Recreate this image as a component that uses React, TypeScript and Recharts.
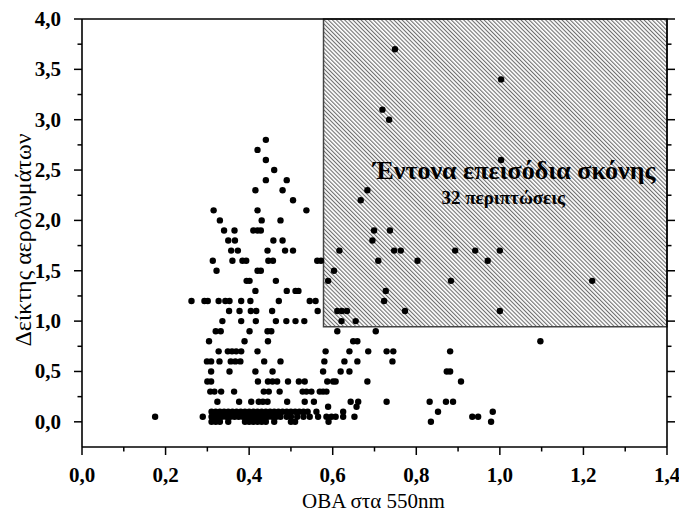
import React from 'react';
import { ScatterChart, Scatter, XAxis, YAxis, ReferenceArea, Label } from 'recharts';

// Rows of the scatter: each Ångström value with the AOD (550nm) values seen on that row
const rowAlpha: number[] = [
  3.7, 3.4, 3.1, 3.0,
  2.8, 2.7, 2.6, 2.5, 2.4, 2.3, 2.2, 2.1, 2.0, 1.9, 1.8, 1.7, 1.6, 1.5, 1.4, 1.3, 1.2, 1.1, 1.0,
  0.9, 0.8, 0.7, 0.6, 0.5, 0.4, 0.3, 0.2, 0.15, 0.1, 0.05, 0.0,
];
const rowAod: number[][] = [
  [0.749],
  [1.003],
  [0.719],
  [0.735],
  [0.44],
  [0.42],
  [0.44, 1.003],
  [0.46],
  [0.44, 0.49],
  [0.415, 0.48, 0.683],
  [0.505, 0.667],
  [0.315, 0.42, 0.537],
  [0.33, 0.43, 0.475],
  [0.34, 0.365, 0.41, 0.42, 0.428, 0.699, 0.737],
  [0.35, 0.366, 0.458, 0.48, 0.695],
  [0.357, 0.373, 0.444, 0.486, 0.505, 0.616, 0.747, 0.763, 0.893, 0.941, 1.0],
  [0.313, 0.36, 0.384, 0.393, 0.446, 0.457, 0.563, 0.572, 0.709, 0.803, 0.971],
  [0.322, 0.42, 0.428, 0.603],
  [0.394, 0.401, 0.464, 0.589, 0.883, 1.221],
  [0.415, 0.49, 0.511, 0.518, 0.727],
  [0.262, 0.293, 0.301, 0.327, 0.343, 0.353, 0.381, 0.403, 0.471, 0.545, 0.559, 0.723],
  [0.352, 0.377, 0.404, 0.417, 0.455, 0.564, 0.611, 0.622, 0.634, 0.773, 1.0],
  [0.336, 0.381, 0.416, 0.464, 0.489, 0.511, 0.532, 0.621, 0.655],
  [0.32, 0.332, 0.401, 0.444, 0.453, 0.611, 0.703],
  [0.304, 0.389, 0.445, 0.649, 0.659, 1.097],
  [0.327, 0.349, 0.359, 0.369, 0.381, 0.42, 0.583, 0.64, 0.685, 0.729, 0.745, 0.881],
  [0.299, 0.309, 0.329, 0.356, 0.367, 0.379, 0.436, 0.475, 0.58, 0.628, 0.659, 0.743],
  [0.309, 0.353, 0.415, 0.456, 0.577, 0.619, 0.64, 0.873, 0.881],
  [0.3, 0.309, 0.421, 0.445, 0.456, 0.467, 0.493, 0.519, 0.533, 0.587, 0.601, 0.607, 0.683, 0.907],
  [0.307, 0.317, 0.333, 0.364, 0.435, 0.447, 0.473, 0.528, 0.537, 0.549, 0.569, 0.577, 0.585],
  [0.324, 0.376, 0.405, 0.423, 0.433, 0.444, 0.491, 0.533, 0.555, 0.643, 0.661, 0.729, 0.832, 0.871, 0.888],
  [0.589, 0.657],
  [0.31, 0.32, 0.33, 0.34, 0.35, 0.36, 0.37, 0.38, 0.39, 0.4, 0.41, 0.42, 0.43, 0.44, 0.45, 0.46, 0.47,
    0.48, 0.49, 0.5, 0.51, 0.52, 0.53, 0.54, 0.561, 0.625, 0.852, 0.983],
  [0.175, 0.289, 0.31, 0.315, 0.325, 0.335, 0.345, 0.355, 0.365, 0.375, 0.385, 0.395, 0.405, 0.415, 0.425,
    0.435, 0.445, 0.455, 0.465, 0.475, 0.49, 0.5, 0.515, 0.53, 0.545, 0.565, 0.585, 0.597, 0.607, 0.625,
    0.652, 0.934, 0.948],
  [0.31, 0.32, 0.33, 0.35, 0.39, 0.4, 0.41, 0.42, 0.43, 0.44, 0.46, 0.5, 0.51, 0.59, 0.835, 0.979],
];

const xTicks = [0, 0.1, 0.2, 0.3, 0.4, 0.5, 0.6, 0.7, 0.8, 0.9, 1.0, 1.1, 1.2, 1.3, 1.4];
const xMajor = [0, 0.2, 0.4, 0.6, 0.8, 1.0, 1.2, 1.4];
const yTicks = [0, 0.25, 0.5, 0.75, 1.0, 1.25, 1.5, 1.75, 2.0, 2.25, 2.5, 2.75, 3.0, 3.25, 3.5, 3.75, 4.0];
const yMajor = [0, 0.5, 1.0, 1.5, 2.0, 2.5, 3.0, 3.5, 4.0];

// Dust-event box
const boxAod = [0.578, 1.4];
const boxAlpha = [0.945, 4.0];

const xTitle = 'OBA στα 550nm';
const yTitle = 'Δείκτης αερολυμάτων';
const boxTitle = 'Έντονα επεισόδια σκόνης';
const boxSubtitle = '32 περιπτώσεις';

const data = rowAlpha.flatMap((a, i) => rowAod[i].map((x) => ({ aod: x, alpha: a })));

const FONT = "'Liberation Serif', 'Times New Roman', serif";
const TS = 8; // tick size (major)
const TM = 4; // tick margin
const fmt = (v: number) => v.toFixed(1).replace('.', ',');
const isIn = (arr: number[], v: number) => arr.some((m) => Math.abs(m - v) < 1e-6);

const makeTick = (orient: 'bottom' | 'top' | 'left' | 'right', majors: number[], labels: boolean) => (props: any) => {
  const { x, y, payload } = props;
  const v = payload.value as number;
  const major = isIn(majors, v);
  const len = major ? 8 : 4.5;
  const sw = 1.5;
  if (orient === 'bottom') {
    const ay = y - TS - TM;
    return (
      <g>
        <line x1={x} x2={x} y1={ay} y2={ay + len} stroke="#000" strokeWidth={sw} />
        {labels && major && (
          <text x={x} y={ay + 35} textAnchor="middle" fontFamily={FONT} fontWeight="bold" fontSize={21} fill="#000">
            {fmt(v)}
          </text>
        )}
      </g>
    );
  }
  if (orient === 'top') {
    const ay = y + TS + TM;
    return <line x1={x} x2={x} y1={ay} y2={ay - len} stroke="#000" strokeWidth={sw} />;
  }
  if (orient === 'left') {
    const ax = x + TS + TM;
    return (
      <g>
        <line x1={ax} x2={ax - len} y1={y} y2={y} stroke="#000" strokeWidth={sw} />
        {labels && major && (
          <text x={ax - 21} y={y + 7} textAnchor="end" fontFamily={FONT} fontWeight="bold" fontSize={21} fill="#000">
            {fmt(v)}
          </text>
        )}
      </g>
    );
  }
  const ax = x - TS - TM;
  return <line x1={ax} x2={ax + len} y1={y} y2={y} stroke="#000" strokeWidth={sw} />;
};

const Dot = (p: any) => <circle cx={p.cx} cy={p.cy} r={3.2} fill="#000" />;

export default function App() {
  const axisLine = { stroke: '#000', strokeWidth: 1.6 };
  return (
    <div style={{ position: 'absolute', left: 0, top: 0, width: 679, height: 516, background: '#fff' }}>
      <ScatterChart width={679} height={516} margin={{ top: 9, right: 2, bottom: 7, left: 22 }}>
        <defs>
          <pattern id="hatch" patternUnits="userSpaceOnUse" width="2.9" height="2.9" patternTransform="rotate(-45)">
            <rect x="0" y="0" width="2.9" height="2.9" fill="#fff" />
            <line x1="0.6" y1="0" x2="0.6" y2="2.9" stroke="#444" strokeWidth="0.85" />
          </pattern>
        </defs>
        <XAxis
          xAxisId="b"
          dataKey="aod"
          type="number"
          domain={[0, 1.4]}
          ticks={xTicks}
          interval={0}
          orientation="bottom"
          height={62}
          tickSize={TS}
          tickMargin={TM}
          tickLine={false}
          axisLine={axisLine}
          tick={makeTick('bottom', xMajor, true)}
          allowDataOverflow
        >
          <Label
            content={(p: any) => (
              <text
                x={p.viewBox.x + p.viewBox.width / 2 - 1}
                y={p.viewBox.y + 61}
                textAnchor="middle"
                fontFamily={FONT}
                fontSize={21}
                fill="#000"
              >
                {xTitle}
              </text>
            )}
          />
        </XAxis>
        <XAxis
          xAxisId="t"
          type="number"
          domain={[0, 1.4]}
          ticks={xTicks}
          interval={0}
          orientation="top"
          height={10}
          tickSize={TS}
          tickMargin={TM}
          tickLine={false}
          axisLine={axisLine}
          tick={makeTick('top', xMajor, false)}
          allowDataOverflow
        />
        <YAxis
          yAxisId="l"
          dataKey="alpha"
          type="number"
          domain={[-0.25, 4]}
          ticks={yTicks}
          interval={0}
          orientation="left"
          width={60}
          tickSize={TS}
          tickMargin={TM}
          tickLine={false}
          axisLine={axisLine}
          tick={makeTick('left', yMajor, true)}
          allowDataOverflow
        >
          <Label
            content={(p: any) => {
              const cx = p.viewBox.x + 1;
              const cy = p.viewBox.y + p.viewBox.height / 2 + 7;
              return (
                <text
                  x={cx}
                  y={cy}
                  transform={`rotate(-90, ${cx}, ${cy})`}
                  textAnchor="middle"
                  dominantBaseline="central"
                  fontFamily={FONT}
                  fontSize={24}
                  fill="#000"
                >
                  {yTitle}
                </text>
              );
            }}
          />
        </YAxis>
        <YAxis
          yAxisId="r"
          type="number"
          domain={[-0.25, 4]}
          ticks={yTicks}
          interval={0}
          orientation="right"
          width={10}
          tickSize={TS}
          tickMargin={TM}
          tickLine={false}
          axisLine={axisLine}
          tick={makeTick('right', yMajor, false)}
          allowDataOverflow
        />
        <ReferenceArea
          xAxisId="b"
          yAxisId="l"
          x1={boxAod[0]}
          x2={boxAod[1]}
          y1={boxAlpha[0]}
          y2={boxAlpha[1]}
          fill="url(#hatch)"
          fillOpacity={1}
          stroke="#444"
          strokeWidth={1.5}
          label={(p: any) => {
            const vb = p.viewBox;
            const cx = vb.x + vb.width / 2;
            return (
              <g>
                <text x={cx + 19} y={vb.y + 160} textAnchor="middle" fontFamily={FONT} fontWeight="bold" fontSize={26} fill="#000">
                  {boxTitle}
                </text>
                <text x={cx + 8} y={vb.y + 185} textAnchor="middle" fontFamily={FONT} fontWeight="bold" fontSize={19} fill="#000">
                  {boxSubtitle}
                </text>
              </g>
            );
          }}
        />
        <Scatter xAxisId="b" yAxisId="l" data={data} fill="#000" shape={Dot} isAnimationActive={false} />
      </ScatterChart>
    </div>
  );
}
